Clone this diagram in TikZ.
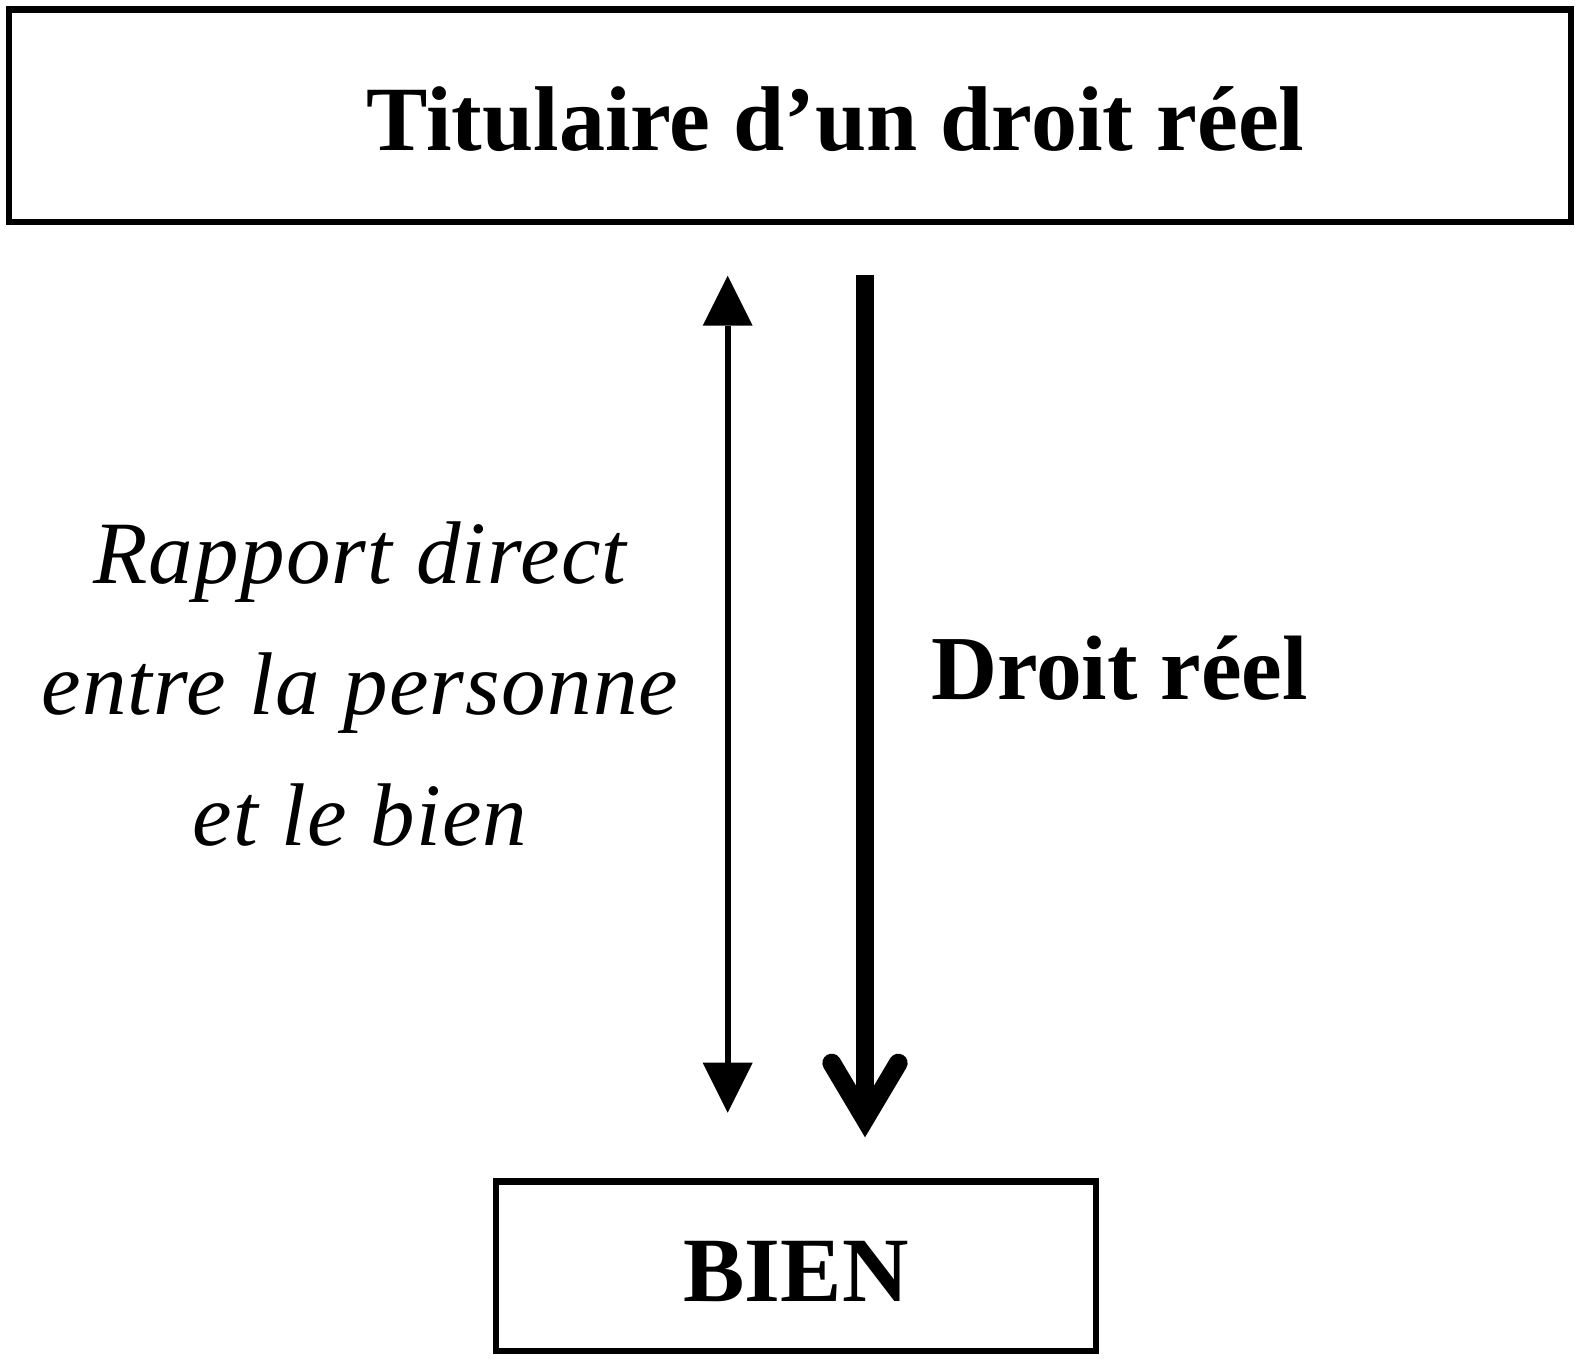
\documentclass[tikz,border=0pt]{standalone}
\usepackage{fontspec}
\setmainfont{Liberation Serif}
\newfontfamily\spacedserif{Liberation Serif}[LetterSpace=1.4]
\usetikzlibrary{arrows.meta}
\tikzset{
  frame/.style={draw=black, line width=6.5pt, rectangle, inner sep=0pt},
  boldtxt/.style={font=\fontsize{92}{110}\selectfont\bfseries, inner sep=0pt, anchor=base},
  itxt/.style={font=\spacedserif\fontsize{89}{100}\selectfont\itshape, inner sep=0pt, anchor=base},
  thinarrow/.style={line width=6pt, {Triangle[length=50pt,width=50pt,line width=0pt]}-{Triangle[length=50pt,width=50pt,line width=0pt]}},
  thickshaft/.style={line width=18.7pt, line cap=butt},
  chevron/.style={line width=18.7pt, line cap=round, line join=miter}
}
\begin{document}
\begin{tikzpicture}[x=1pt,y=-1pt]
\useasboundingbox (0,0) rectangle (1581,1361);
% boxes
\node[frame, minimum width=1562pt, minimum height=212.3pt] (top) at (790,115.85) {};
\node[boldtxt] (toptxt) at (835.5,150) {Titulaire d’un droit réel};
\node[frame, minimum width=600pt, minimum height=169.5pt] (bien) at (796,1266.25) {};
\node[boldtxt] (bientxt) at (796,1301) {BIEN};
% labels
\node[itxt] (l1) at (360,583) {Rapport direct};
\node[itxt] (l2) at (360,714) {entre la personne};
\node[itxt] (l3) at (360,845) {et le bien};
\node[boldtxt, font=\fontsize{91.5}{100}\selectfont\bfseries] (dr) at (1119.5,699) {Droit réel};
% thin double arrow
\coordinate (ta) at (727.7,275.7);
\coordinate (tb) at (727.7,1112.7);
\draw[thinarrow] (ta) -- (tb);
% thick arrow
\coordinate (d1) at (865,275);
\coordinate (d2) at (865,1119);
\coordinate (cl) at (831.7,1063);
\coordinate (cr) at (898.3,1063);
\draw[thickshaft] (d1) -- (d2);
\draw[chevron] (cl) -- (d2) -- (cr);
\end{tikzpicture}
\end{document}
